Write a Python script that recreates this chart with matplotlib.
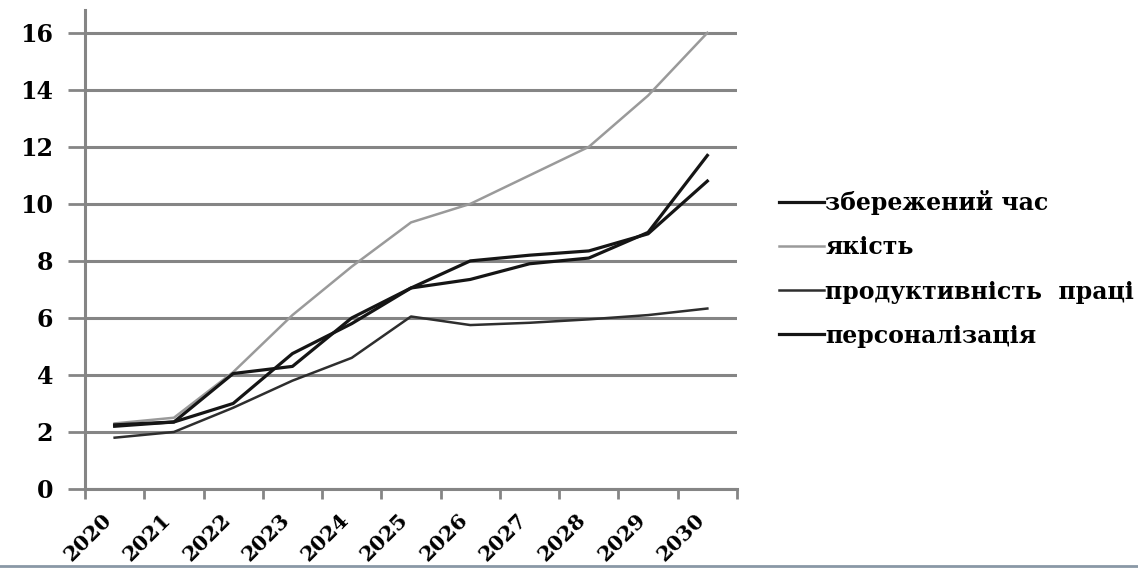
import matplotlib
matplotlib.use("Agg")
import matplotlib.pyplot as plt
from matplotlib.lines import Line2D
from matplotlib.transforms import ScaledTranslation

years = ["2020", "2021", "2022", "2023", "2024", "2025", "2026", "2027", "2028", "2029", "2030"]
saved_time = [2.2, 2.35, 3.0, 4.75, 5.8, 7.05, 7.35, 7.9, 8.1, 9.0, 11.7]
quality = [2.3, 2.5, 4.1, 6.1, 7.8, 9.35, 10.0, 11.0, 12.0, 13.8, 16.0]
productivity = [1.8, 2.0, 2.85, 3.8, 4.6, 6.05, 5.75, 5.83, 5.95, 6.1, 6.33]
personalization = [2.25, 2.35, 4.05, 4.3, 6.0, 7.05, 8.0, 8.2, 8.35, 8.95, 10.8]
series_names = ["збережений час", "якість", "продуктивність  праці", "персоналізація"]
yticks = [0, 2, 4, 6, 8, 10, 12, 14, 16]

W, H = 1138, 569
fig = plt.figure(figsize=(W / 100, H / 100), dpi=100)
ax = fig.add_axes([85 / W, 1 - 489 / H, (737 - 85) / W, (489 - 10) / H])

serif = ["DejaVu Serif", "Liberation Serif"]
x = list(range(len(years)))
grid_c = "#858585"

for v in yticks:
    ax.axhline(v, color=grid_c, lw=2.2, zorder=1)

styles = [
    (saved_time, "#151515", 2.3),
    (quality, "#9a9a9a", 1.8),
    (productivity, "#2e2e2e", 1.8),
    (personalization, "#151515", 2.3),
]
handles = []
for (vals, c, lw), name in zip(styles, series_names):
    ax.plot(x, vals, color=c, lw=lw, zorder=3, solid_joinstyle="round")
    handles.append(Line2D([], [], color=c, lw=lw))

ax.set_xlim(-0.5, len(years) - 0.5)
ax.set_ylim(0, 16.8)
ax.set_yticks(yticks)
ax.set_yticklabels([str(v) for v in yticks], fontfamily=serif, fontweight="bold", fontsize=17)
ax.set_xticks([i - 0.5 for i in range(len(years) + 1)], minor=False)
ax.set_xticklabels([""] * (len(years) + 1))
ax.set_xticks(x, minor=True)
ax.set_xticklabels(years, minor=True, rotation=45, ha="right", rotation_mode="anchor",
                   fontfamily=serif, fontweight="bold", fontsize=15)
ax.tick_params(axis="x", which="minor", length=0, pad=15)
ax.tick_params(axis="x", which="major", length=7, width=2, color=grid_c, direction="out")
ax.tick_params(axis="y", length=12, width=2, color=grid_c, direction="out", pad=11)
off = ScaledTranslation(-13 / 100, 0, fig.dpi_scale_trans)
for lab in ax.get_xticklabels(minor=True):
    lab.set_transform(lab.get_transform() + off)

for s in ["top", "right"]:
    ax.spines[s].set_visible(False)
for s in ["left", "bottom"]:
    ax.spines[s].set_color(grid_c)
    ax.spines[s].set_linewidth(2.2)

fig.legend(handles, series_names, loc="center left", bbox_to_anchor=(770 / W, 1 - 269 / H),
           frameon=False, prop={"family": serif, "weight": "bold", "size": 17},
           handlelength=1.9, handletextpad=0.05, labelspacing=0.85, borderaxespad=0)

fig.add_artist(Line2D([0, 1], [1 - 566 / H, 1 - 566 / H], transform=fig.transFigure,
                      color="#8a98a6", lw=2))

fig.savefig("out.png", dpi=100)
